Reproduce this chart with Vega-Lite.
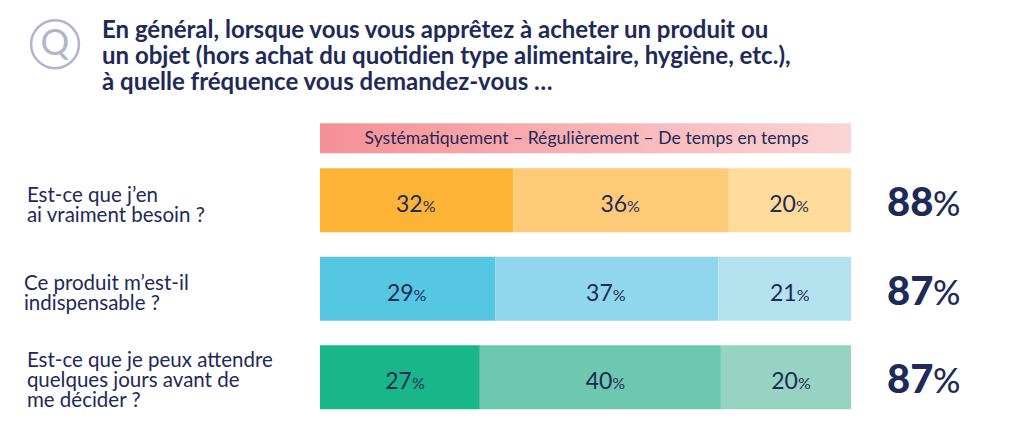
{
"$schema":"https://vega.github.io/schema/vega-lite/v6.json",
"width":531,"height":265.5,
"autosize":{"type":"none"},
"padding":{"left":320,"top":156,"right":165,"bottom":16.5},
"background":"white",
"config":{"view":{"stroke":null},"font":"Lato"},
"title":{"text":["En général, lorsque vous vous apprêtez à acheter un produit ou","un objet (hors achat du quotidien type alimentaire, hygiène, etc.),","à quelle fréquence vous demandez-vous …"],"anchor":"start","frame":"group","dx":-218,"offset":-99,"font":"Lato","fontSize":24,"fontWeight":"bold","color":"#1E2A57","lineHeight":26,"baseline":"alphabetic"},
"datasets":{
"segments":[
{"question":"Est-ce que j’en\nai vraiment besoin ?","frequency":"Systématiquement","rank":1,"pct":32,"share":36.4,"shade":"a1"},
{"question":"Est-ce que j’en\nai vraiment besoin ?","frequency":"Régulièrement","rank":2,"pct":36,"share":40.6,"shade":"a2"},
{"question":"Est-ce que j’en\nai vraiment besoin ?","frequency":"De temps en temps","rank":3,"pct":20,"share":23.0,"shade":"a3"},
{"question":"Ce produit m’est-il\nindispensable ?","frequency":"Systématiquement","rank":1,"pct":29,"share":33.0,"shade":"b1"},
{"question":"Ce produit m’est-il\nindispensable ?","frequency":"Régulièrement","rank":2,"pct":37,"share":42.0,"shade":"b2"},
{"question":"Ce produit m’est-il\nindispensable ?","frequency":"De temps en temps","rank":3,"pct":21,"share":25.0,"shade":"b3"},
{"question":"Est-ce que je peux attendre\nquelques jours avant de\nme décider ?","frequency":"Systématiquement","rank":1,"pct":27,"share":30.1,"shade":"c1"},
{"question":"Est-ce que je peux attendre\nquelques jours avant de\nme décider ?","frequency":"Régulièrement","rank":2,"pct":40,"share":45.4,"shade":"c2"},
{"question":"Est-ce que je peux attendre\nquelques jours avant de\nme décider ?","frequency":"De temps en temps","rank":3,"pct":20,"share":24.5,"shade":"c3"}
],
"questions":[
{"question":"Est-ce que j’en\nai vraiment besoin ?","total":88},
{"question":"Ce produit m’est-il\nindispensable ?","total":87},
{"question":"Est-ce que je peux attendre\nquelques jours avant de\nme décider ?","total":87}
],
"header":[{"question":"Est-ce que j’en\nai vraiment besoin ?","from":0,"to":100,"legend":"Systématiquement – Régulièrement – De temps en temps"}]
},
"encoding":{
"y":{"field":"question","type":"nominal","axis":null,"sort":null,"scale":{"domain":["Est-ce que j’en\nai vraiment besoin ?","Ce produit m’est-il\nindispensable ?","Est-ce que je peux attendre\nquelques jours avant de\nme décider ?"],"paddingInner":0.277,"paddingOuter":0.1385}}
},
"layer":[
{"data":{"name":"header"},"mark":{"type":"bar","height":30,"yOffset":-62,"color":{"gradient":"linear","x1":0,"y1":0,"x2":1,"y2":0,"stops":[{"offset":0,"color":"#F59095"},{"offset":1,"color":"#FBD5D5"}]}},
 "encoding":{"x":{"field":"from","type":"quantitative","axis":null,"scale":{"domain":[0,100]}},"x2":{"field":"to"}}},
{"data":{"name":"header"},"mark":{"type":"text","fontSize":17.6,"yOffset":-61,"baseline":"middle","color":"#1E2A57"},
 "encoding":{"x":{"datum":50.2,"type":"quantitative"},"text":{"field":"legend"}}},
{"data":{"name":"header"},"mark":{"type":"point","size":2290,"filled":false,"opacity":1,"stroke":"#B0B5CC","strokeWidth":2.5,"yOffset":-156},
 "encoding":{"x":{"datum":-49.9,"type":"quantitative"}}},
{"data":{"name":"header"},"mark":{"type":"text","text":"Q","fontSize":36,"fontWeight":400,"color":"#B0B5CC","yOffset":-156,"baseline":"middle"},
 "encoding":{"x":{"datum":-49.9,"type":"quantitative"}}},
{"data":{"name":"segments"},"transform":[{"stack":"share","groupby":["question"],"sort":[{"field":"rank","order":"ascending"}],"as":["x0","x1"]}],"mark":{"type":"bar"},
 "encoding":{
  "x":{"field":"x0","type":"quantitative"},"x2":{"field":"x1"},
  "color":{"field":"shade","type":"nominal","legend":null,"scale":{"domain":["a1","a2","a3","b1","b2","b3","c1","c2","c3"],"range":["#FDB436","#FDCA78","#FEDC9C","#55C7E2","#90D6EC","#B4E1EE","#19B689","#6EC7AF","#96D3C0"]}}
 }},
{"data":{"name":"segments"},"transform":[{"stack":"share","groupby":["question"],"sort":[{"field":"rank","order":"ascending"}],"as":["x0","x1"]},{"calculate":"(datum.x0+datum.x1)/2","as":"mid"},{"filter":{"not":{"field":"shade","oneOf":["b3","c1","c2","c3"]}}}],"mark":{"type":"text","fontSize":23,"align":"right","dx":6,"dy":12,"baseline":"alphabetic","color":"#1E2A57"},
 "encoding":{"x":{"field":"mid","type":"quantitative"},"text":{"field":"pct","type":"quantitative"}}},
{"data":{"name":"segments"},"transform":[{"stack":"share","groupby":["question"],"sort":[{"field":"rank","order":"ascending"}],"as":["x0","x1"]},{"calculate":"(datum.x0+datum.x1)/2","as":"mid"},{"filter":{"not":{"field":"shade","oneOf":["b3","c1","c2","c3"]}}}],"mark":{"type":"text","text":"%","fontSize":16,"align":"left","dx":6,"dy":12,"baseline":"alphabetic","color":"#1E2A57"},
 "encoding":{"x":{"field":"mid","type":"quantitative"}}},
{"data":{"name":"segments"},"transform":[{"stack":"share","groupby":["question"],"sort":[{"field":"rank","order":"ascending"}],"as":["x0","x1"]},{"calculate":"(datum.x0+datum.x1)/2","as":"mid"},{"filter":{"field":"shade","oneOf":["b3","c1","c2","c3"]}}],"mark":{"type":"text","fontSize":23,"align":"right","dx":12,"dy":12,"baseline":"alphabetic","color":"#1E2A57"},
 "encoding":{"x":{"field":"mid","type":"quantitative"},"text":{"field":"pct","type":"quantitative"}}},
{"data":{"name":"segments"},"transform":[{"stack":"share","groupby":["question"],"sort":[{"field":"rank","order":"ascending"}],"as":["x0","x1"]},{"calculate":"(datum.x0+datum.x1)/2","as":"mid"},{"filter":{"field":"shade","oneOf":["b3","c1","c2","c3"]}}],"mark":{"type":"text","text":"%","fontSize":16,"align":"left","dx":12,"dy":12,"baseline":"alphabetic","color":"#1E2A57"},
 "encoding":{"x":{"field":"mid","type":"quantitative"}}},
{"data":{"name":"questions"},"transform":[{"filter":{"field":"question","equal":"Est-ce que j’en\nai vraiment besoin ?"}}],"mark":{"type":"text","fontSize":20.5,"align":"left","baseline":"middle","lineBreak":"\n","lineHeight":20,"dy":-4,"color":"#1E2A57"},
 "encoding":{"x":{"datum":-55.2,"type":"quantitative"},"text":{"field":"question"}}},
{"data":{"name":"questions"},"transform":[{"filter":{"field":"question","equal":"Ce produit m’est-il\nindispensable ?"}}],"mark":{"type":"text","fontSize":20.5,"align":"left","baseline":"middle","lineBreak":"\n","lineHeight":20,"dy":-5,"dx":-3,"color":"#1E2A57"},
 "encoding":{"x":{"datum":-55.2,"type":"quantitative"},"text":{"field":"question"}}},
{"data":{"name":"questions"},"transform":[{"filter":{"field":"question","equal":"Est-ce que je peux attendre\nquelques jours avant de\nme décider ?"}}],"mark":{"type":"text","fontSize":20.5,"align":"left","baseline":"middle","lineBreak":"\n","lineHeight":20,"dy":-16,"color":"#1E2A57"},
 "encoding":{"x":{"datum":-55.2,"type":"quantitative"},"text":{"field":"question"}}},
{"data":{"name":"questions"},"mark":{"type":"text","fontSize":40,"fontWeight":900,"align":"left","dx":36,"dy":16,"baseline":"alphabetic","color":"#1E2A57"},
 "encoding":{"x":{"datum":100,"type":"quantitative"},"text":{"field":"total","type":"quantitative"}}},
{"data":{"name":"questions"},"mark":{"type":"text","text":"%","fontSize":34,"fontWeight":500,"align":"left","dx":82,"dy":16,"baseline":"alphabetic","color":"#1E2A57"},
 "encoding":{"x":{"datum":100,"type":"quantitative"}}}
]
}
